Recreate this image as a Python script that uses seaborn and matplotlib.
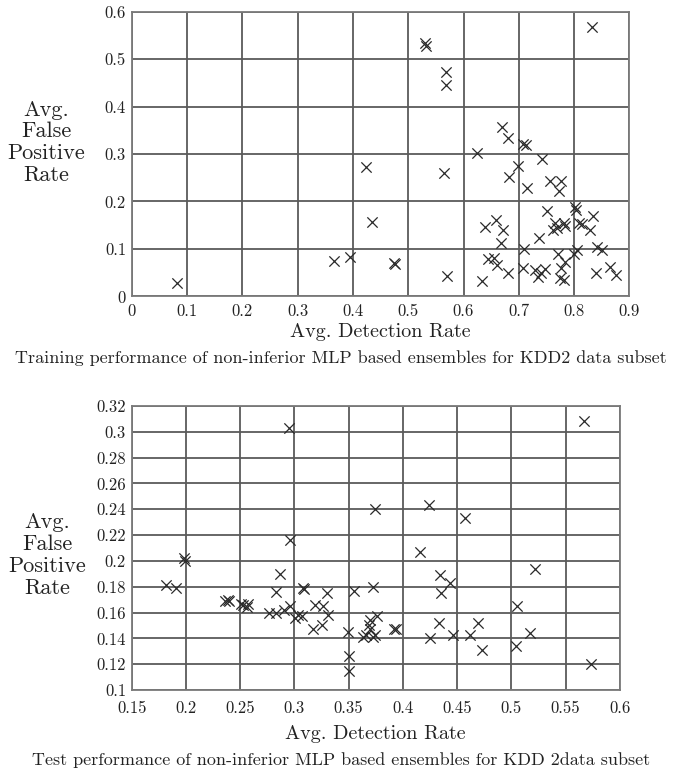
import matplotlib
matplotlib.use("Agg")
import matplotlib.pyplot as plt
import seaborn as sns

# training set (KDD2) - detection rate vs false positive rate
train_dr = [0.082, 0.365, 0.395, 0.424, 0.434, 0.475, 0.477,
            0.530, 0.533, 0.568, 0.568, 0.565, 0.570,
            0.624, 0.634, 0.639, 0.645, 0.655, 0.658, 0.660, 0.667, 0.669, 0.671, 0.681, 0.681, 0.683, 0.699,
            0.708, 0.713, 0.709, 0.708, 0.714, 0.729, 0.735, 0.737, 0.740, 0.741, 0.747, 0.750, 0.756, 0.762,
            0.765, 0.769, 0.771, 0.773, 0.775, 0.776, 0.776, 0.781, 0.782, 0.784, 0.784,
            0.799, 0.802, 0.803, 0.806, 0.808, 0.815, 0.828, 0.833, 0.834, 0.840, 0.841, 0.850, 0.864, 0.875]
train_fpr = [0.029, 0.075, 0.084, 0.273, 0.157, 0.070, 0.068,
             0.533, 0.527, 0.473, 0.445, 0.261, 0.043,
             0.303, 0.033, 0.147, 0.078, 0.080, 0.160, 0.066, 0.112, 0.357, 0.141, 0.333, 0.049, 0.252, 0.275,
             0.321, 0.318, 0.099, 0.059, 0.229, 0.056, 0.040, 0.123, 0.049, 0.289, 0.057, 0.179, 0.243, 0.140,
             0.154, 0.144, 0.089, 0.223, 0.038, 0.243, 0.059, 0.154, 0.035, 0.148, 0.073,
             0.089, 0.188, 0.182, 0.098, 0.154, 0.153, 0.141, 0.567, 0.169, 0.049, 0.105, 0.098, 0.061, 0.045]

# test set
test_dr = [0.182, 0.191, 0.198, 0.199,
           0.236, 0.239, 0.240, 0.251, 0.253, 0.256, 0.257,
           0.277, 0.283, 0.283, 0.287, 0.290, 0.295, 0.296, 0.296,
           0.301, 0.303, 0.307, 0.308, 0.309,
           0.317, 0.319, 0.325, 0.326, 0.330, 0.331,
           0.349, 0.350, 0.350, 0.355,
           0.363, 0.366, 0.369, 0.370, 0.370, 0.372, 0.372, 0.374, 0.374, 0.376,
           0.392, 0.394,
           0.416, 0.424, 0.425, 0.433, 0.434, 0.435, 0.443, 0.446, 0.457, 0.462, 0.469, 0.473,
           0.504, 0.505, 0.517, 0.522, 0.567, 0.573]
test_fpr = [0.181, 0.179, 0.202, 0.200,
            0.169, 0.170, 0.169, 0.167, 0.166, 0.164, 0.167,
            0.160, 0.160, 0.176, 0.190, 0.162, 0.303, 0.216, 0.165,
            0.156, 0.158, 0.157, 0.179, 0.178,
            0.147, 0.166, 0.150, 0.165, 0.175, 0.158,
            0.145, 0.126, 0.115, 0.177,
            0.141, 0.143, 0.150, 0.154, 0.147, 0.180, 0.141, 0.240, 0.143, 0.157,
            0.147, 0.147,
            0.207, 0.243, 0.140, 0.152, 0.189, 0.175, 0.183, 0.143, 0.233, 0.143, 0.152, 0.131,
            0.134, 0.165, 0.144, 0.194, 0.308, 0.120]

train_xticks = ["0", "0.1", "0.2", "0.3", "0.4", "0.5", "0.6", "0.7", "0.8", "0.9"]
train_yticks = ["0", "0.1", "0.2", "0.3", "0.4", "0.5", "0.6"]
test_xticks = ["0.15", "0.2", "0.25", "0.3", "0.35", "0.4", "0.45", "0.5", "0.55", "0.6"]
test_yticks = ["0.1", "0.12", "0.14", "0.16", "0.18", "0.2", "0.22", "0.24", "0.26", "0.28", "0.3", "0.32"]

xlabel = "Avg. Detection Rate"
ylabel = "Avg.\nFalse\nPositive\nRate"
cap_train = "Training performance of non-inferior MLP based ensembles for KDD2 data subset"
cap_test = "Test performance of non-inferior MLP based ensembles for KDD 2data subset"

sns.set_style("white")
plt.rcParams["font.family"] = ["cmr10", "DejaVu Serif"]
plt.rcParams["axes.formatter.use_mathtext"] = True

fig = plt.figure(figsize=(6.82, 7.74), dpi=100)
ax1 = fig.add_axes([0.193, 0.617, 0.730, 0.368])
ax2 = fig.add_axes([0.193, 0.1085, 0.716, 0.367])

def draw(ax, xs, ys, xt, yt, ylab_y, xpad, tpad):
  sns.scatterplot(x=xs, y=ys, marker="x", color="#2a2a2a", s=55, linewidth=0.9, ax=ax, zorder=3)
  xv = [float(t) for t in xt]
  yv = [float(t) for t in yt]
  ax.set_xlim(xv[0], xv[-1])
  ax.set_ylim(yv[0], yv[-1])
  ax.set_xticks(xv)
  ax.set_xticklabels(xt)
  ax.set_yticks(yv)
  ax.set_yticklabels(yt)
  ax.grid(True, color="#5a5a5a", linewidth=1.3)
  ax.set_axisbelow(True)
  for s in ax.spines.values():
    s.set_color("#7a7a7a")
    s.set_linewidth(1.3)
  ax.tick_params(length=0, pad=4, labelsize=12, colors="#222")
  ax.tick_params(axis="x", pad=tpad)
  ax.set_xlabel(xlabel, fontsize=14.5, color="#222", labelpad=xpad)
  ax.set_ylabel(ylabel, fontsize=16, color="#222", rotation=0, ha="center", va="center", linespacing=1.15)
  ax.yaxis.set_label_coords(-0.172, ylab_y)

draw(ax1, train_dr, train_fpr, train_xticks, train_yticks, 0.54, 3, 5)
draw(ax2, test_dr, test_fpr, test_xticks, test_yticks, 0.475, 6, 8)

fig.text(0.5, 0.538, cap_train, ha="center", va="center", fontsize=13, color="#222")
fig.text(0.5, 0.018, cap_test, ha="center", va="center", fontsize=13, color="#222")

fig.savefig("out.png", dpi=100)
